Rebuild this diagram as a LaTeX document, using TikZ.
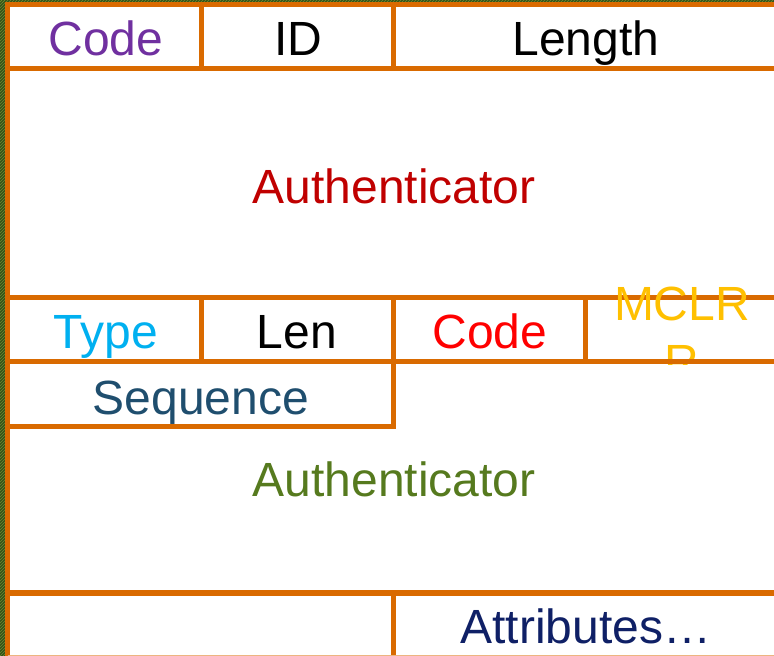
\documentclass[tikz,border=0pt]{standalone}
\usepackage{fontspec}
\setmainfont{Liberation Sans}
\usetikzlibrary{patterns}
\definecolor{rule}{HTML}{D96A00}
\definecolor{edgegreen}{HTML}{34501A}
\definecolor{edgehatch}{HTML}{6B8E2E}
\definecolor{cpurple}{HTML}{7030A0}
\definecolor{cdarkred}{HTML}{C00000}
\definecolor{csky}{HTML}{00B0F0}
\definecolor{cred}{HTML}{FF0000}
\definecolor{camber}{HTML}{FFC000}
\definecolor{cteal}{HTML}{1F4E6E}
\definecolor{colive}{HTML}{567A1E}
\definecolor{cnavy}{HTML}{0F2066}
\begin{document}
\begin{tikzpicture}[x=1pt,y=-1pt,
  field/.style={anchor=base,inner sep=0pt,font=\fontsize{48}{58}\selectfont},
  rulefive/.style={draw=rule,line width=5pt},
  rulesix/.style={draw=rule,line width=6pt}]
\useasboundingbox (0,0) rectangle (774,656);
\fill[white] (0,0) rectangle (774,656);
% hatched strip along the left and top edges
\fill[edgegreen] (0,0) rectangle (5,656);
\fill[edgegreen] (0,0) rectangle (774,2);
\fill[pattern=north east lines,pattern color=edgehatch] (0,0) rectangle (5,656);
\fill[pattern=north east lines,pattern color=edgehatch] (0,0) rectangle (774,2);

% corner coordinates of the frame
\coordinate (tl) at (7.5,4.5);
\coordinate (tr) at (774,4.5);
\coordinate (bl) at (7.5,656);

% header row: Code | ID | Length
\draw[rulefive] (tr) -- (tl) -- (bl);
\draw[rulefive] (7.5,68.5) -- (774,68.5);
\draw[rulefive] (201.5,4.5) -- (201.5,68.5);
\draw[rulefive] (393,4.5) -- (393,68.5);
\node[field,text=cpurple] (code) at (106,55) {Code};
\node[field,text=black] (id) at (298,55) {ID};
\node[field,text=black] (length) at (586,55) {Length};
\node[field,text=cdarkred] (auth) at (394,203) {Authenticator};

% attribute header: Type | Len | Code | MCLR
\draw[rulefive] (7.5,297.5) -- (774,297.5);
\draw[rulefive] (201,297.5) -- (201,361.5);
\draw[rulefive] (393,297.5) -- (393,361.5);
\draw[rulefive] (585.5,297.5) -- (585.5,361.5);
% the MCLR label overflows its cell; its second line is cut off below
\begin{scope}
  \clip (588,270) rectangle (774,364);
  \node[field,text=camber,align=center] (mclr) at (682,378) {MCLR\\R};
\end{scope}
\draw[rulefive] (7.5,361.5) -- (774,361.5);
\node[field,text=csky] (type) at (106,348) {Type};
\node[field,text=black] (len) at (297,348) {Len};
\node[field,text=cred] (acode) at (490,348) {Code};

% sequence field and second authenticator
\draw[rulefive] (7.5,426.5) -- (393,426.5) -- (393,361.5);
\node[field,text=cteal] (seq) at (201,414) {Sequence};
\node[field,text=colive] (auth2) at (394,496) {Authenticator};

% attributes row
\draw[rulesix] (7.5,592.5) -- (774,592.5);
\draw[rulefive] (393,592.5) -- (393,656);
\draw[draw=rule!50,line width=1.5pt] (7.5,655.5) -- (774,655.5);
\node[field,text=cnavy] (attrs) at (586,643) {Attributes…};
\end{tikzpicture}
\end{document}
